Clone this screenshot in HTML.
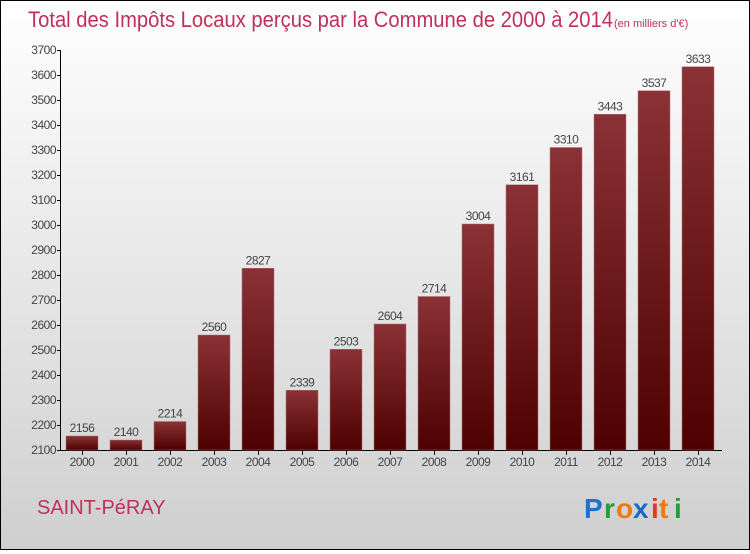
<!DOCTYPE html>
<html><head><meta charset="utf-8"><style>
body{margin:0;width:750px;height:550px;overflow:hidden}
#c{position:relative;width:748px;height:548px;border:1px solid #000;background:linear-gradient(#ffffff,#cfcfcf);font-family:"Liberation Sans",sans-serif}
</style></head><body>
<div id="c">
<svg id="s" width="748" height="548" xmlns="http://www.w3.org/2000/svg">
<defs><linearGradient id="g" x1="0" y1="0" x2="0" y2="1"><stop offset="0" stop-color="#8a3236"/><stop offset="1" stop-color="#4e0000"/></linearGradient></defs>
<text x="27" y="26" font-size="22" fill="#c0305a" font-family="Liberation Sans, sans-serif" textLength="585" lengthAdjust="spacingAndGlyphs">Total des Impôts Locaux perçus par la Commune de 2000 à 2014</text>
<text x="613" y="26" font-size="11" fill="#c0305a">(en milliers d'€)</text>
<text x="36" y="513" font-size="20" fill="#c0305a">SAINT-PéRAY</text>
<g font-size="28" font-weight="bold" font-family="Liberation Sans, sans-serif">
<text x="583" y="517" fill="#1a73d0">P</text><text x="603" y="517" fill="#2a9a3a">r</text><text x="615" y="517" fill="#f07a10">o</text><text x="632" y="517" fill="#1a6ac8">x</text><text x="650" y="517" fill="#e03a20">i</text><text x="658" y="517" fill="#f07a10">t</text><text x="673" y="517" fill="#2a9a3a">i</text>
</g>
<g id="plot"></g>
</svg>
</div>
<script>
const years=["2000","2001","2002","2003","2004","2005","2006","2007","2008","2009","2010","2011","2012","2013","2014"];
const values=[2156,2140,2214,2560,2827,2339,2503,2604,2714,3004,3161,3310,3443,3537,3633];
const yTicks=[2100,2200,2300,2400,2500,2600,2700,2800,2900,3000,3100,3200,3300,3400,3500,3600,3700];
const NS="http://www.w3.org/2000/svg";
const g=document.getElementById('plot');
const y=v=>449-(v-2100)*0.25;
const x=i=>81+i*44;
function mk(t,a,txt){const e=document.createElementNS(NS,t);for(const k in a)e.setAttribute(k,a[k]);if(txt!==undefined)e.textContent=txt;g.appendChild(e);return e;}
let e=mk('line',{x1:59.5,y1:49,x2:59.5,y2:449,stroke:'#000'});


e=mk('line',{x1:59,y1:449.5,x2:721,y2:449.5,stroke:'#000'});


yTicks.forEach(v=>{
 let t=mk('line',{x1:56,x2:60,y1:y(v)+0.5,y2:y(v)+0.5,stroke:'#000'});
 
 
 let l=mk('text',{x:55,y:y(v)+4,'font-size':12,fill:'#444','text-anchor':'end','letter-spacing':'-0.5'},v);
 
 
});
years.forEach((yr,i)=>{
 const v=values[i];
 let r=mk('rect',{x:x(i)-16,y:y(v),width:32,height:449-y(v),fill:'url(#g)',stroke:'#b07070','stroke-width':0.5});
 
 
 let t=mk('line',{x1:x(i)+0.5,x2:x(i)+0.5,y1:450,y2:454,stroke:'#000'});
 
 
 let l=mk('text',{x:x(i),y:465,'font-size':12,fill:'#444','text-anchor':'middle','letter-spacing':'-0.5'},yr);
 
 
 let vl=mk('text',{x:x(i),y:y(v)-4,'font-size':12,fill:'#444','text-anchor':'middle','letter-spacing':'-0.5'},v);
 
 
});
</script>
</body></html>
